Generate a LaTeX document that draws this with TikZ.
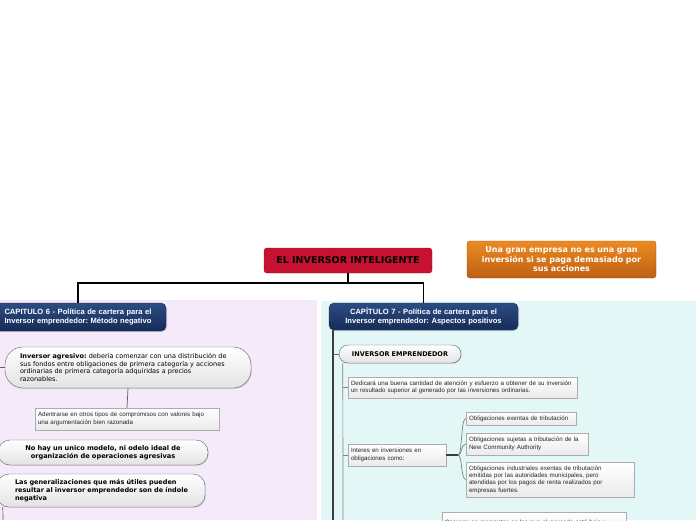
\documentclass[tikz,border=0pt]{standalone}
\usepackage{fontspec}
\setmainfont{DejaVu Sans}
\newfontfamily\arialfont{Liberation Sans}
\usetikzlibrary{shadows}
\frenchspacing

\definecolor{titlered}{RGB}{199,17,48}
\definecolor{orangetop}{RGB}{236,138,34}
\definecolor{orangebot}{RGB}{190,96,20}
\definecolor{navytop}{RGB}{44,76,130}
\definecolor{navybot}{RGB}{22,44,88}
\definecolor{lavender}{RGB}{245,234,250}
\definecolor{aqua}{RGB}{227,247,246}
\definecolor{spinegray}{RGB}{60,60,60}

\begin{document}
\begin{tikzpicture}[x=1pt, y=-1pt,
    titlebox/.style={rectangle, rounded corners=3pt, fill=titlered, draw=titlered!80!black, minimum width=168pt, minimum height=25pt, font=\fontsize{9.5}{11}\selectfont\bfseries},
    notebox/.style={rectangle, rounded corners=3pt, top color=orangetop, bottom color=orangebot, draw=orangebot!80!black, text=white, align=center, inner xsep=4pt, minimum height=37pt, font=\fontsize{8}{9.5}\selectfont\bfseries},
    chapter/.style={rectangle, rounded corners=5pt, top color=navytop, bottom color=navybot, draw=navybot, text=white, align=center, inner xsep=4pt, drop shadow={shadow xshift=1pt, shadow yshift=-1pt, opacity=0.3}, font=\arialfont\fontsize{7.6}{9.3}\selectfont\bfseries},
    capsule/.style={rectangle, rounded corners=12pt, top color=white, bottom color=gray!22, draw=gray!75!black, drop shadow={shadow xshift=0.8pt, shadow yshift=-0.8pt, opacity=0.3}, font=\fontsize{6.5}{7.8}\selectfont},
    leaf/.style={rectangle, top color=white, bottom color=gray!16, draw=gray!65, text=black!85, align=left, inner xsep=3pt, inner ysep=2pt, drop shadow={shadow xshift=0.8pt, shadow yshift=-0.8pt, opacity=0.3}, font=\arialfont\fontsize{6.2}{7.4}\selectfont},
    trunk/.style={draw=black, line width=1.2pt},
    spine/.style={draw=spinegray, line width=1.8pt},
    twig/.style={draw=gray!75!black, line width=0.7pt}
]
    \useasboundingbox (0,0) rectangle (696,520);
    \clip (0,0) rectangle (696,520);
    % panels
    \fill[lavender] (0,300) rectangle (317,520);
    \fill[aqua] (321,301) rectangle (696,520);

    % top level
    \node[titlebox] (title) at (348,260.5) {EL INVERSOR INTELIGENTE};
    \node[notebox, text width=181pt] (note) at (561.5,259.5) {Una gran empresa no es una gran\\ inversión si se paga demasiado por\\ sus acciones};
    \node[chapter, text width=168pt, minimum height=28pt] (cap6) at (78,317) {CAPITULO 6 - Política de cartera para el\\ Inversor emprendedor: Método negativo};
    \node[chapter, text width=181pt, minimum height=27pt] (cap7) at (423.5,316.5) {CAPÍTULO 7 - Política de cartera para el\\ Inversor emprendedor: Aspectos positivos};
    \coordinate (hub) at (348,283);
    \draw[trunk] (title.south) -- (hub) -| (cap7.north);
    \draw[trunk] (hub) -| (cap6.north);

    % capitulo 6
    \node[capsule, rounded corners=18pt, align=left, text width=216pt, inner xsep=15pt, minimum height=41pt] (agresivo) at (128,367.5) {\textbf{Inversor agresivo:} debería comenzar con una distribución de\\ sus fondos entre obligaciones de primera categoría y acciones\\ ordinarias de primera categoría adquiridas a precios\\ razonables.};
    \node[leaf, text width=178pt, minimum height=22pt] (adentrarse) at (127,419) {Adentrarse en otros tipos de compromisos con valores bajo\\ una argumentación bien razonada};
    \node[capsule, align=center, text width=184pt, inner xsep=13pt, minimum height=25pt, font=\fontsize{6.6}{8}\selectfont\bfseries] (modelo) at (103,452.5) {No hay un unico modelo, ni odelo ideal de\\ organización de operaciones agresivas};
    \node[capsule, align=left, text width=182pt, inner xsep=13pt, minimum height=33pt, font=\fontsize{6.5}{8}\selectfont\bfseries] (generalizaciones) at (101,490.5) {\hspace*{5pt}Las generalizaciones que más útiles pueden\\ \hspace*{5pt}resultar al inversor emprendedor son de índole\\ \hspace*{5pt}negativa};
    \coordinate (cap6top) at (-8,331);
    \coordinate (cap6end) at (-8,520);
    \coordinate (genend) at (3,520);
    \draw[spine] (cap6top) -- (cap6end);
    \draw[twig] (cap6top |- agresivo.west) -- (agresivo.west);
    \draw[twig] (agresivo.south) -- (adentrarse.north);
    \draw[twig] ([xshift=6pt]generalizaciones.south west) -- (genend);

    % capitulo 7
    \node[capsule, rounded corners=9pt, align=center, text width=106pt, inner xsep=8pt, minimum height=18pt, font=\fontsize{6.5}{8}\selectfont\bfseries] (emprendedor) at (400,354) {INVERSOR EMPRENDEDOR};
    \node[leaf, text width=223pt, minimum height=21pt] (dedicara) at (462.5,387.5) {\mbox{Dedicará una buena cantidad de atención y esfuerzo a obtener de su inversión}\\ un resultado superior al generado por las inversiones ordinarias.};
    \node[leaf, text width=92pt, minimum height=22pt] (interes) at (397,455) {Interes en inversiones en\\ obligaciones como:};
    \node[leaf, text width=104pt, minimum height=13pt, inner ysep=1pt] (exentas) at (521,418.5) {Obligaciones exentas de tributación};
    \node[leaf, text width=116pt, minimum height=22pt] (sujetas) at (527,444) {Obligaciones sujetas a tributación de la\\ New Community Authority};
    \node[leaf, text width=162pt, minimum height=35pt] (industriales) at (550,479.5) {Obligaciones industriales exentas de tributación\\ emitidas por las autoridades municipales, pero\\ atendidas por los pagos de renta realizados por\\ empresas fuertes.};
    \node[leaf, text width=178pt, minimum height=22pt, anchor=north, inner ysep=1.5pt] (comprar) at (534,512) {Comprar en momentos en los que el mercado está bajo y};

    \coordinate (cap7end) at (333,520);
    \coordinate (empend) at (343,520);
    \draw[spine] (cap7.south -| cap7end) -- (cap7end);
    \draw[twig] (cap7end |- emprendedor.west) -- (emprendedor.west);
    \draw[twig, gray] ([xshift=4pt]emprendedor.south west) -- (empend);
    \draw[twig, gray] (empend |- dedicara.west) -- (dedicara.west);
    \draw[twig, gray] (empend |- interes.west) -- (interes.west);
    \draw[spine, line width=1.4pt] (interes.east) -- ++(12,0) coordinate (fork);
    \foreach \child in {exentas, sujetas, industriales} {
        \draw[twig, gray] (fork) .. controls ([xshift=4pt]fork) and ([xshift=-5pt]\child.west) .. (\child.west);
    }
\end{tikzpicture}
\end{document}
